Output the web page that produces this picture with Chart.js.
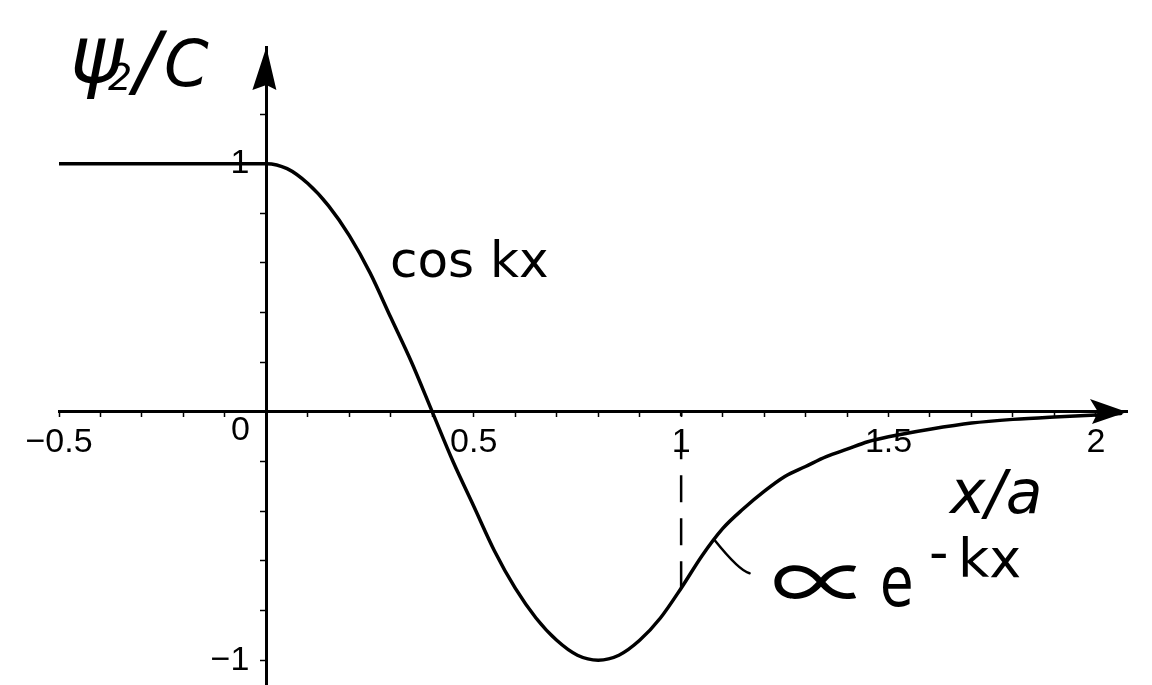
<!DOCTYPE html>
<html><head><meta charset="utf-8">
<script src="https://cdn.jsdelivr.net/npm/chart.js@4/dist/chart.umd.min.js"></script>
<style>html,body{margin:0;padding:0;background:#fff;} #wrap{width:1152px;height:685px;position:relative;}</style>
</head><body><div id="wrap"><canvas id="c"></canvas></div>
<script>
// ---- data ----
const xValues = [-0.5, 0, 0.05, 0.1, 0.15, 0.2, 0.25, 0.3, 0.35, 0.4, 0.45, 0.5, 0.55, 0.6, 0.65, 0.7, 0.75, 0.8, 0.85, 0.9, 0.95, 1.0,
                 1.05, 1.1, 1.15, 1.2, 1.25, 1.3, 1.35, 1.4, 1.45, 1.5, 1.6, 1.7, 1.8, 1.9, 2.0, 2.06];
const psiValues = [1, 1, 0.98, 0.92, 0.83, 0.71, 0.56, 0.38, 0.2, 0, -0.2, -0.38, -0.56, -0.71, -0.83, -0.92, -0.98, -1, -0.98, -0.92, -0.83, -0.71,
                   -0.58, -0.47, -0.39, -0.32, -0.26, -0.22, -0.18, -0.15, -0.12, -0.1, -0.07, -0.045, -0.03, -0.02, -0.012, -0.006];
const boundaryX = [1, 1];
const boundaryY = [-0.71, 0];
const xTickValues = [-0.5,-0.4,-0.3,-0.2,-0.1,0,0.1,0.2,0.3,0.4,0.5,0.6,0.7,0.8,0.9,1,1.1,1.2,1.3,1.4,1.5,1.6,1.7,1.8,1.9,2];
const xLabeled = [-0.5, 0.5, 1, 1.5, 2];
const xLabelText = ['\u22120.5', '0.5', '1', '1.5', '2'];
const yTickValues = [-1,-0.8,-0.6,-0.4,-0.2,0,0.2,0.4,0.6,0.8,1,1.2];
const yLabeled = [-1, 1];
const yLabelText = ['\u22121\u2002', '1\u2002'];
const originLabel = '0';

function lookup(v, vals, txt){ for(let i=0;i<vals.length;i++){ if(Math.abs(vals[i]-v)<1e-6) return txt[i]; } return ''; }

const annot = {
  id: 'annot',
  afterDraw(chart){
    const ctx = chart.ctx, xs = chart.scales.x, ys = chart.scales.y, ca = chart.chartArea;
    const x0 = xs.getPixelForValue(0), y0 = ys.getPixelForValue(0);
    ctx.save();
    ctx.fillStyle = '#000'; ctx.strokeStyle = '#000';
    // arrow heads
    const R = ca.right;
    ctx.beginPath();
    ctx.moveTo(R, y0); ctx.lineTo(R-37, y0-13); ctx.lineTo(R-29, y0); ctx.lineTo(R-35, y0+12); ctx.closePath(); ctx.fill();
    const T = ca.top;
    ctx.beginPath();
    ctx.moveTo(x0, T); ctx.lineTo(x0-14, T+43); ctx.lineTo(x0, T+38); ctx.lineTo(x0+10, T+43); ctx.closePath(); ctx.fill();
    // origin label
    ctx.font = '34px "Liberation Sans", Arial, sans-serif';
    ctx.textAlign = 'center'; ctx.textBaseline = 'alphabetic';
    ctx.fillText(originLabel, x0 - 26, y0 + 28);
    // handwritten-style labels
    ctx.textAlign = 'left';
    ctx.font = 'italic 80px "DejaVu Sans", sans-serif';
    ctx.fillText('\u03C8', 70, 82);
    ctx.font = 'italic 38px "DejaVu Sans", sans-serif';
    ctx.fillText('2', 108, 90);
    ctx.font = 'italic 78px "DejaVu Sans", sans-serif';
    ctx.fillText('/', 134, 88);
    ctx.font = 'italic 64px "DejaVu Sans", sans-serif';
    ctx.fillText('C', 164, 86);
    ctx.font = '50px "DejaVu Sans", sans-serif';
    ctx.fillText('cos kx', 390, 277);
    ctx.font = 'italic 60px "DejaVu Sans", sans-serif';
    ctx.fillText('x/a', 950, 513);
    // proportional sign, stretched like the hand-drawn one
    ctx.save();
    ctx.translate(771, 614); ctx.scale(1.25, 1.05);
    ctx.font = '80px "Noto Sans CJK JP", "DejaVu Sans", sans-serif';
    ctx.fillText('\u221D', 0, 0);
    ctx.restore();
    ctx.save();
    ctx.translate(880, 606); ctx.scale(0.78, 1);
    ctx.font = '70px "DejaVu Sans", sans-serif';
    ctx.fillText('e', 0, 0);
    ctx.restore();
    ctx.font = '54px "DejaVu Sans", sans-serif';
    ctx.fillText('-', 929, 571);
    ctx.fillText('kx', 958, 577);
    // leader line
    ctx.lineWidth = 2.5; ctx.lineCap = 'round';
    ctx.beginPath();
    ctx.moveTo(xs.getPixelForValue(1.08), ys.getPixelForValue(-0.515));
    ctx.quadraticCurveTo(xs.getPixelForValue(1.14), ys.getPixelForValue(-0.64), xs.getPixelForValue(1.165), ys.getPixelForValue(-0.65));
    ctx.stroke();
    ctx.restore();
  }
};

new Chart(document.getElementById('c'), {
  type: 'line',
  data: {
    datasets: [
      { data: xValues.map((x,i)=>({x:x, y:psiValues[i]})), borderColor:'#000', borderWidth:3.5, pointRadius:0,
        cubicInterpolationMode:'monotone', fill:false, borderCapStyle:'round' },
      { data: boundaryX.map((x,i)=>({x:x, y:boundaryY[i]})), borderColor:'#000', borderWidth:2.5, pointRadius:0,
        borderDash:[27,16], fill:false }
    ]
  },
  options: {
    responsive:true, maintainAspectRatio:false, animation:false,
    layout:{ padding:{ left:59, right:25, top:47, bottom:0 } },
    plugins:{ legend:{display:false}, tooltip:{enabled:false} },
    scales:{
      x:{ type:'linear', min:-0.5, max:2.075, position:{y:0},
          afterFit: s => { s.height = 0; s.paddingLeft = 0; s.paddingRight = 0; s.paddingTop = 0; s.paddingBottom = 0; },
          afterBuildTicks: s => { s.ticks = xTickValues.map(v=>({value:v})); },
          ticks:{ autoSkip:false, maxRotation:0, color:'#000', padding:6,
                  font:{ family:'"Liberation Sans", Arial, sans-serif', size:34 },
                  callback: v => lookup(v, xLabeled, xLabelText) },
          grid:{ drawOnChartArea:false, drawTicks:true, tickLength:4, tickColor:'#000', tickWidth:1.5 },
          border:{ display:true, color:'#000', width:3 } },
      y:{ type:'linear', min:-1.1, max:1.47, position:{x:0},
          afterFit: s => { s.width = 0; s.paddingLeft = 0; s.paddingRight = 0; s.paddingTop = 0; s.paddingBottom = 0; },
          afterBuildTicks: s => { s.ticks = yTickValues.map(v=>({value:v})); },
          ticks:{ autoSkip:false, color:'#000', padding:12,
                  font:{ family:'"Liberation Sans", Arial, sans-serif', size:34 },
                  callback: v => lookup(v, yLabeled, yLabelText) },
          grid:{ drawOnChartArea:false, drawTicks:true, tickLength:5, tickColor:'#000', tickWidth:1.5 },
          border:{ display:true, color:'#000', width:3 } }
    }
  },
  plugins:[annot]
});
</script>
</body></html>
